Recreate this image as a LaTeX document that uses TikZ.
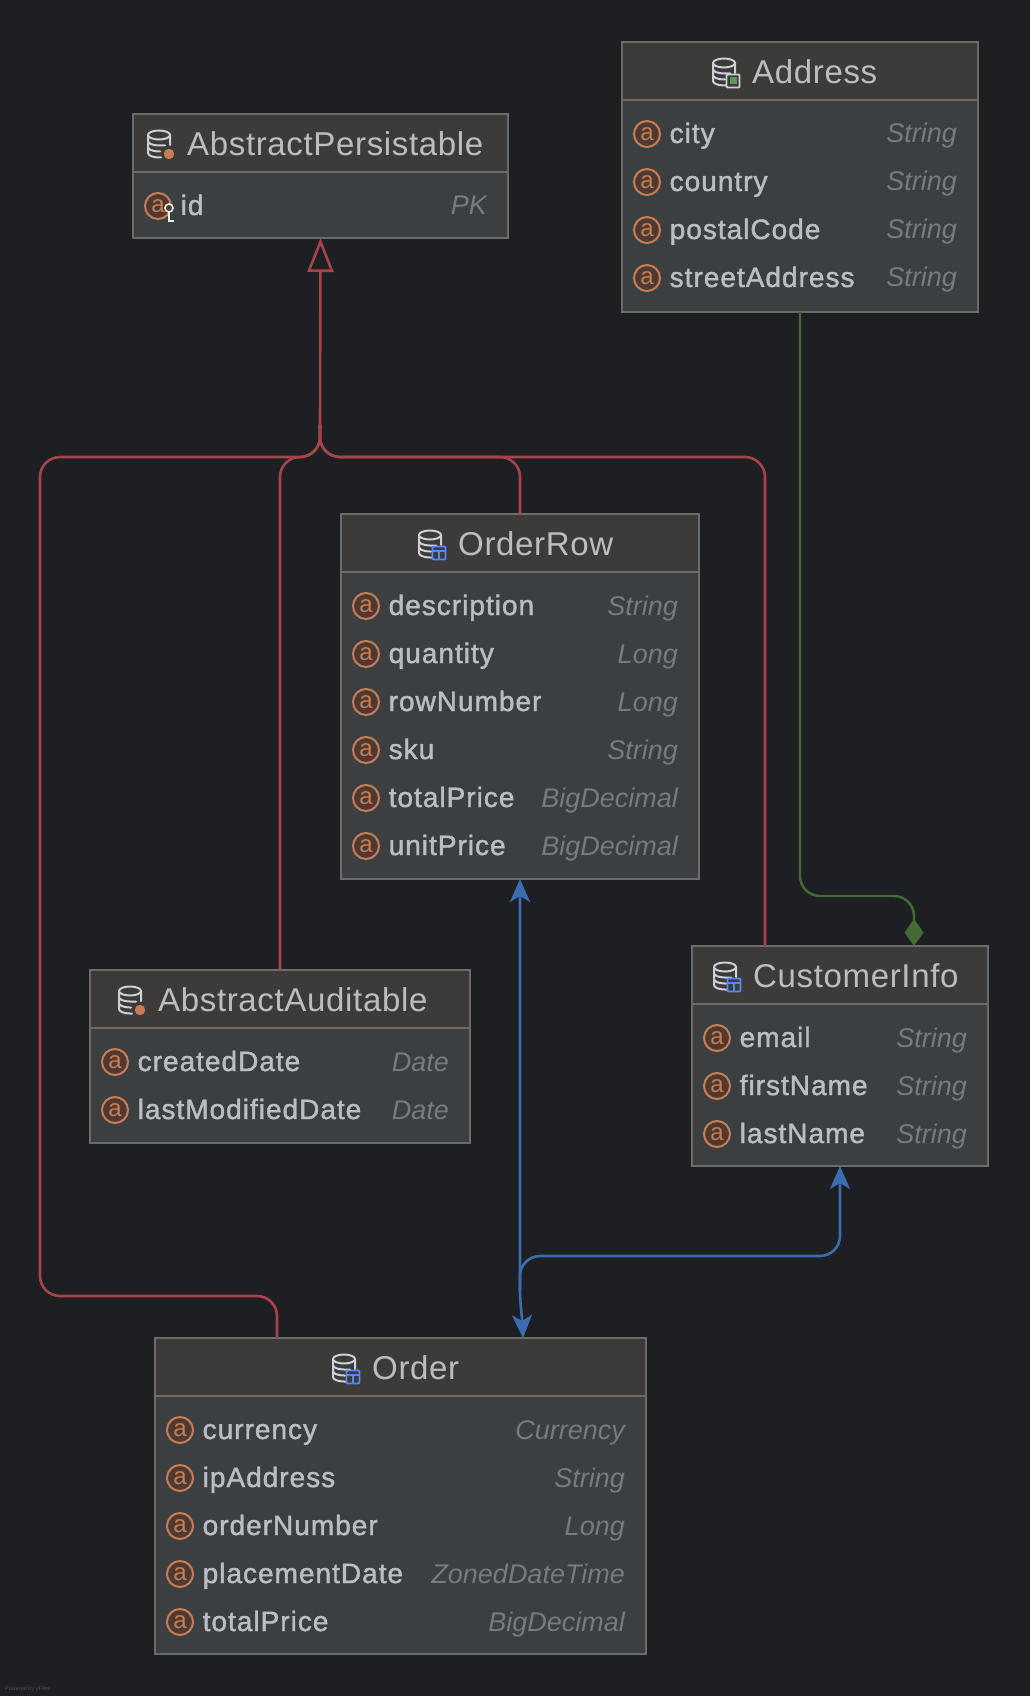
\documentclass[tikz,border=0pt]{standalone}
\usepackage{fontspec}
\setmainfont{Liberation Sans}
\newfontfamily\titlefont[LetterSpace=2]{Liberation Sans}
\newfontfamily\attrfont[LetterSpace=3.6,FakeBold=1.5]{Liberation Sans}
\usetikzlibrary{arrows.meta,calc}
\definecolor{canvas}{HTML}{1E1F22}
\definecolor{barfill}{HTML}{3C3B3A}
\definecolor{rowfill}{HTML}{3B3F42}
\definecolor{edge}{HTML}{6B6B6A}
\definecolor{label}{HTML}{BBBEC1}
\definecolor{typegray}{HTML}{787A7C}
\definecolor{ringorange}{HTML}{C77D55}
\definecolor{ringfill}{HTML}{4E3A30}
\definecolor{iconline}{HTML}{CED0D6}
\definecolor{inhred}{HTML}{A8434A}
\definecolor{compgreen}{HTML}{436B38}
\definecolor{assocblue}{HTML}{3A6EB0}
\definecolor{tableblue}{HTML}{548AF7}
\definecolor{embedgreen}{HTML}{57965C}
\tikzset{
  entitybox/.style={draw=edge,line width=1.8pt,fill=rowfill,anchor=north west,inner sep=0,outer sep=0},
  titlebar/.style={draw=edge,line width=1.8pt,fill=barfill,anchor=north west,inner sep=0,outer sep=0},
  titletext/.style={anchor=base west,inner sep=0,text=label,font=\titlefont\fontsize{33}{36}\selectfont},
  attrname/.style={anchor=base west,inner sep=0,text=label,font=\attrfont\fontsize{28}{32}\selectfont},
  attrtype/.style={anchor=base east,inner sep=0,text=typegray,font=\itshape\fontsize{27}{32}\selectfont},
  attrmark/.style={circle,draw=ringorange,line width=2pt,fill=ringfill,minimum size=26pt,inner sep=0,
    text=ringorange,font=\fontsize{24}{24}\selectfont},
  inhline/.style={draw=inhred,line width=2.6pt,rounded corners=20pt},
  compline/.style={draw=compgreen,line width=2.4pt,rounded corners=20pt},
  assocline/.style={draw=assocblue,line width=2.6pt},
  dbicon/.pic={
    \draw[iconline,line width=2pt,line cap=round] (-11,-9) arc (180:-180:11 and 4.5)
      (-11,-9) -- (-11,9) arc (180:90:11 and 4.5) -- (2,13.5)
      (-11,-3) arc (180:90:11 and 4.5) -- (6,1.5) (-11,3) arc (180:90:11 and 4.5) -- (1,7.5)
      (11,-9) -- (11,1);
  },
  abstractbadge/.pic={\fill[ringorange] (10,10) circle (5.2);},
  tablebadge/.pic={
    \fill[barfill] (2,2) rectangle (16,16);
    \draw[tableblue,line width=1.8pt,rounded corners=1pt] (2.5,2.5) rectangle (15.5,15.5);
    \draw[tableblue,line width=1.6pt] (2.5,7) -- (15.5,7) (9,7) -- (9,15.5);
  },
  embedbadge/.pic={
    \fill[barfill] (2,2) rectangle (16,16);
    \draw[iconline,line width=1.8pt,rounded corners=1pt] (2.5,2.5) rectangle (15.5,15.5);
    \fill[embedgreen] (5.5,5.5) rectangle (12.5,12.5);
  },
  keymark/.pic={
    \draw[white!85!gray,line width=1.6pt] (0,4) -- (0,13) -- (5,13);
    \draw[white!85!gray,line width=1.6pt,fill=ringfill] (0,0) circle (4);
  },
}
\newcommand{\entity}[9]{
  \node[entitybox,minimum width=#4,minimum height=#5] (#1) at (#2,#3) {};
  \node[titlebar,minimum width=#4,minimum height=58] (#1-bar) at (#2,#3) {};
  \pic at ($(#1.north west)+(#6,30)$) {dbicon};
  \pic at ($(#1.north west)+(#6,30)$) {#7};
  \node[titletext] (#1-name) at ($(#1.north west)+(#6+28,41.5)$) {#8};
  \foreach \attr/\kind [count=\i from 0] in {#9}{
    \node[attrmark] (#1-m\i) at ($(#1.north west)+(25,92+48*\i)$) {a};
    \node[attrname] (#1-a\i) at ($(#1.north west)+(47.5,101+48*\i)$) {\attr};
    \node[attrtype] (#1-t\i) at ($(#1.north east)+(-21,101+48*\i)$) {\kind};
  }
}
\begin{document}
\begin{tikzpicture}[x=1pt,y=-1pt]
\useasboundingbox (0,0) rectangle (1030,1696);
\fill[canvas] (0,0) rectangle (1030,1696);
\entity{AbstractPersistable}{133}{114}{375}{124}{26}{abstractbadge}{AbstractPersistable}{id/PK}
\pic at (169,208) {keymark};
\entity{Address}{622}{42}{356}{270}{102}{embedbadge}{Address}{city/String,country/String,postalCode/String,streetAddress/String}
\entity{OrderRow}{341}{514}{358}{365}{89}{tablebadge}{OrderRow}{description/String,quantity/Long,rowNumber/Long,sku/String,totalPrice/BigDecimal,unitPrice/BigDecimal}
\entity{AbstractAuditable}{90}{970}{380}{173}{40}{abstractbadge}{AbstractAuditable}{createdDate/Date,lastModifiedDate/Date}
\entity{CustomerInfo}{692}{946}{296}{220}{33}{tablebadge}{CustomerInfo}{email/String,firstName/String,lastName/String}
\entity{Order}{155}{1338}{491}{316}{189}{tablebadge}{Order}{currency/Currency,ipAddress/String,orderNumber/Long,placementDate/ZonedDateTime,totalPrice/BigDecimal}
\coordinate (inhjoin) at (320,425);
\draw[inhline,-{Triangle[open,fill=canvas,length=34pt,width=26pt]}] (inhjoin) -- (AbstractPersistable.south);
\draw[inhline] (inhjoin) -- (320,457) -- (40,457) -- (40,1296) -- (277,1296) -- ($(Order.north west)+(122,0)$);
\draw[inhline] (inhjoin) -- (320,457) -- (280,457) -- (AbstractAuditable.north);
\draw[inhline] (inhjoin) -- (320,457) -- (520,457) -- (OrderRow.north);
\draw[inhline] (inhjoin) -- (320,457) -- (765,457) -- ($(CustomerInfo.north west)+(73,0)$);
\draw[compline,-{Diamond[length=27pt,width=19pt]}] (Address.south) -- (800,896) -- (914,896) -- ($(CustomerInfo.north west)+(222,0)$);
\coordinate (assocjoin) at (520,1290);
\draw[assocline,{Stealth[length=23pt,width=20pt,inset=6pt]}-{Stealth[length=23pt,width=20pt,inset=6pt]}] (OrderRow.south) -- (assocjoin) .. controls (520,1305) and (522,1315) .. ($(Order.north west)+(368,0)$);
\draw[assocline,rounded corners=20pt,-{Stealth[length=23pt,width=20pt,inset=6pt]}] (assocjoin) -- (520,1256) -- (840,1256) -- (CustomerInfo.south);
\node[anchor=base west,inner sep=0,text=white!22!canvas,font=\fontsize{5.5}{6}\selectfont] (credit) at (5,1690) {Powered by yFiles};
\end{tikzpicture}
\end{document}
